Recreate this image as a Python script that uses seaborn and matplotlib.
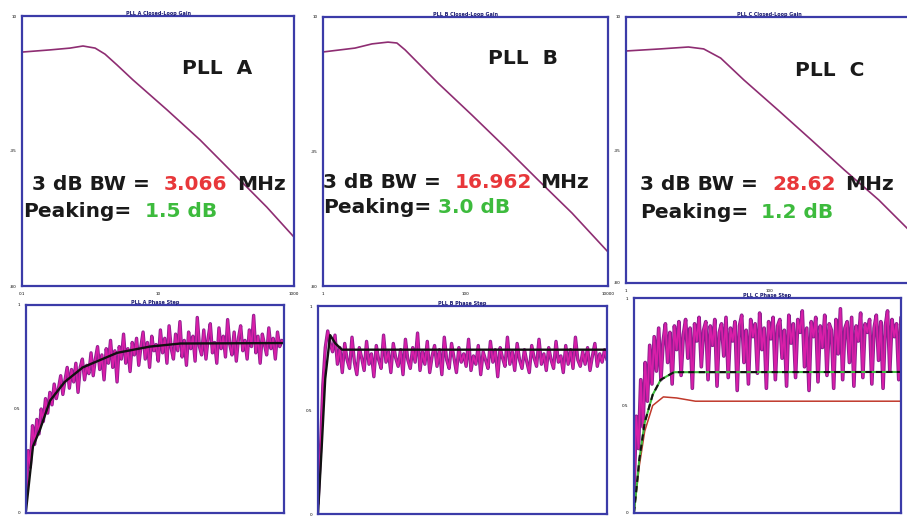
import numpy as np
import pandas as pd
import matplotlib
matplotlib.use("Agg")
import matplotlib.pyplot as plt
import seaborn as sns

# ---------------- data: closed-loop magnitude (MHz, dB) ----------------
bode_a_freq = [0.103, 0.258, 0.508, 0.789, 1.19, 1.66, 2.49, 4.28, 13.6, 41.5, 126, 398, 1000]
bode_a_db = [-2.0, -1.3, -0.7, 0.0, -0.7, -2.7, -6.3, -11.3, -21.3, -31.3, -42.3, -53.7, -63.7]

bode_b_freq = [1, 2.81, 4.87, 8.17, 10.9, 14.2, 41.1, 123, 358, 1042, 3126, 10000]
bode_b_db = [-1.7, -0.4, 1.0, 1.6, 1.3, -1.0, -12.1, -22.8, -33.5, -44.5, -55.6, -68.6]

bode_c_freq = [1, 3.01, 7.46, 12.2, 21.1, 44.5, 134, 391, 1138, 3428, 9077]
bode_c_db = [-1.5, -0.8, -0.15, -0.8, -3.9, -11.3, -21.5, -31.6, -41.8, -51.9, -62.1]

pll_names = ["PLL  A", "PLL  B", "PLL  C"]
bw_values = ["3.066", "16.962", "28.62"]
peaking_values = ["1.5 dB", "3.0 dB", "1.2 dB"]

# ---------------- data: step responses (normalised) ----------------
step_a_t = [0, 0.027, 0.054, 0.093, 0.15, 0.22, 0.353, 0.48, 0.6, 1.0]
step_a_ideal = [0.01, 0.32, 0.40, 0.54, 0.63, 0.70, 0.77, 0.80, 0.815, 0.817]
step_a_noisy = [
    0.05, 0.30, 0.22, 0.42, 0.33, 0.45, 0.38, 0.50, 0.44, 0.55,
    0.48, 0.58, 0.52, 0.62, 0.55, 0.60, 0.66, 0.57, 0.64, 0.70,
    0.60, 0.69, 0.63, 0.72, 0.58, 0.70, 0.74, 0.64, 0.71, 0.67,
    0.77, 0.66, 0.74, 0.80, 0.69, 0.76, 0.64, 0.79, 0.72, 0.83,
    0.70, 0.78, 0.63, 0.80, 0.74, 0.86, 0.72, 0.79, 0.68, 0.82,
    0.76, 0.84, 0.71, 0.80, 0.87, 0.74, 0.82, 0.70, 0.85, 0.78,
    0.81, 0.73, 0.88, 0.77, 0.84, 0.72, 0.90, 0.79, 0.74, 0.86,
    0.78, 0.92, 0.75, 0.83, 0.71, 0.87, 0.79, 0.85, 0.73, 0.94,
    0.80, 0.76, 0.88, 0.74, 0.84, 0.91, 0.77, 0.82, 0.72, 0.89,
    0.79, 0.85, 0.75, 0.93, 0.81, 0.76, 0.87, 0.73, 0.84, 0.90,
    0.78, 0.83, 0.74, 0.88, 0.80, 0.95, 0.77, 0.85, 0.72, 0.86,
    0.81, 0.76, 0.89, 0.79, 0.84, 0.74, 0.87, 0.80, 0.83, 0.82,
]

step_b_t = [0, 0.012, 0.025, 0.042, 0.06, 0.083, 1.0]
step_b_ideal = [0.0, 0.30, 0.65, 0.86, 0.82, 0.79, 0.79]
step_b_noisy = [
    0.05, 0.30, 0.62, 0.80, 0.88, 0.82, 0.78, 0.86, 0.72, 0.80,
    0.68, 0.82, 0.74, 0.70, 0.85, 0.73, 0.67, 0.80, 0.75, 0.69,
    0.83, 0.72, 0.77, 0.66, 0.81, 0.74, 0.70, 0.86, 0.73, 0.78,
    0.68, 0.82, 0.75, 0.71, 0.79, 0.67, 0.84, 0.74, 0.70, 0.80,
    0.73, 0.87, 0.69, 0.78, 0.72, 0.83, 0.68, 0.76, 0.81, 0.71,
    0.79, 0.67, 0.85, 0.74, 0.70, 0.82, 0.75, 0.68, 0.80, 0.73,
    0.77, 0.71, 0.84, 0.69, 0.76, 0.72, 0.81, 0.67, 0.78, 0.74,
    0.70, 0.83, 0.73, 0.79, 0.66, 0.80, 0.75, 0.71, 0.85, 0.72,
    0.78, 0.69, 0.82, 0.74, 0.70, 0.79, 0.73, 0.68, 0.81, 0.75,
    0.71, 0.84, 0.72, 0.77, 0.69, 0.80, 0.74, 0.70, 0.83, 0.73,
    0.76, 0.68, 0.81, 0.72, 0.79, 0.70, 0.85, 0.74, 0.71, 0.78,
    0.72, 0.80, 0.69, 0.76, 0.82, 0.71, 0.77, 0.73, 0.79, 0.74,
]

step_c_t = [0, 0.02, 0.04, 0.07, 0.10, 0.15, 1.0]
step_c_ideal = [0.0, 0.25, 0.42, 0.55, 0.62, 0.655, 0.656]
step_c_red_t = [0, 0.02, 0.04, 0.07, 0.11, 0.16, 0.23, 1.0]
step_c_red = [0.0, 0.22, 0.38, 0.50, 0.54, 0.535, 0.52, 0.52]
step_c_noisy = [
    0.10, 0.45, 0.30, 0.62, 0.40, 0.70, 0.52, 0.78, 0.60, 0.82,
    0.66, 0.86, 0.62, 0.80, 0.88, 0.70, 0.84, 0.60, 0.87, 0.76,
    0.89, 0.64, 0.83, 0.90, 0.72, 0.86, 0.58, 0.88, 0.80, 0.91,
    0.68, 0.85, 0.89, 0.62, 0.87, 0.78, 0.90, 0.59, 0.84, 0.88,
    0.73, 0.91, 0.63, 0.86, 0.80, 0.89, 0.57, 0.87, 0.92, 0.70,
    0.85, 0.60, 0.90, 0.82, 0.88, 0.65, 0.93, 0.76, 0.86, 0.58,
    0.89, 0.81, 0.91, 0.62, 0.87, 0.90, 0.72, 0.85, 0.59, 0.92,
    0.79, 0.88, 0.63, 0.90, 0.84, 0.94, 0.68, 0.86, 0.57, 0.89,
    0.82, 0.91, 0.61, 0.87, 0.77, 0.92, 0.64, 0.88, 0.85, 0.58,
    0.90, 0.74, 0.95, 0.62, 0.86, 0.89, 0.70, 0.91, 0.59, 0.87,
    0.80, 0.93, 0.63, 0.88, 0.84, 0.90, 0.60, 0.86, 0.92, 0.71,
    0.89, 0.58, 0.87, 0.94, 0.66, 0.90, 0.82, 0.88, 0.62, 0.91,
]

# ---------------- styling ----------------
sns.set_style("white")
plt.rcParams["font.family"] = ["DejaVu Sans"]

W, H = 907, 519
fig = plt.figure(figsize=(W / 100, H / 100), dpi=100)
fig.patch.set_facecolor("white")

FRAME = "#3b3ba8"
BODE_COL = "#8e2d72"
MAG_DARK = "#8a1f8e"
MAG = "#d81ea8"
RED = "#e8373a"
GREEN = "#3dbb3d"


def px_axes(l, r, t, b):
    return fig.add_axes([l / W, 1 - b / H, (r - l) / W, (b - t) / H])


def style(ax, xt, xl, yt, yl, title):
    for s in ax.spines.values():
        s.set_color(FRAME)
        s.set_linewidth(1.6)
    ax.set_xticks(xt)
    ax.set_xticklabels(xl)
    ax.set_yticks(yt)
    ax.set_yticklabels(yl)
    ax.tick_params(direction="out", length=3, width=1.6, color="black",
                   labelsize=3, pad=1, colors="black")
    ax.minorticks_off()
    ax.set_title(title, fontsize=3.5, color="#1a1a70", pad=1, fontweight="bold")
    ax.set_xlabel("")
    ax.set_ylabel("")
    ax.grid(False)


def line(ax, x, y, color, lw, ls="-"):
    df = pd.DataFrame({"x": x, "y": y})
    sns.lineplot(data=df, x="x", y="y", ax=ax, color=color, lw=lw, ls=ls,
                 estimator=None, sort=False, legend=False)


# ---- top row ----
top_boxes = [(22, 294, 16, 286), (323, 608, 17, 286), (626, 912, 17, 283)]
bode_sets = [(bode_a_freq, bode_a_db, (0.1, 1000)),
             (bode_b_freq, bode_b_db, (1, 10000)),
             (bode_c_freq, bode_c_db, (1, 10000))]
titles_top = ["PLL A Closed-Loop Gain", "PLL B Closed-Loop Gain", "PLL C Closed-Loop Gain"]
for i, (box, (f, db, xl)) in enumerate(zip(top_boxes, bode_sets)):
    ax = px_axes(*box)
    line(ax, f, db, BODE_COL, 1.2)
    ax.set_xscale("log")
    ax.set_xlim(*xl)
    ax.set_ylim(-80, 10)
    mid = np.sqrt(xl[0] * xl[1])
    right_lab = f"{xl[1]:g}" if i < 2 else ""
    style(ax, [xl[0], mid, xl[1]], [f"{xl[0]:g}", f"{mid:g}", right_lab],
          [-80, -35, 10], ["-80", "-35", "10"], titles_top[i])
    if i == 2:
        ax.spines["right"].set_visible(False)

# ---- big annotations (pixel positions) ----
FS = 14.5
ann = [
    # (pll_x, pll_y, bw_x, bw_red_x, mhz_x, bw_y, pk_x, pk_green_x, pk_y)
    (182, 68, 32, 164, 237, 185, 23, 145, 212),
    (488, 58, 323, 455, 540, 182, 323, 438, 207),
    (795, 70, 640, 772, 845, 185, 640, 761, 213),
]
for i, (px_, py_, bx, brx, mx, by, kx, kgx, ky) in enumerate(ann):
    fig.text(px_ / W, 1 - py_ / H, pll_names[i], fontsize=FS, fontweight="bold",
             color="#1a1a1a", ha="left", va="center")
    fig.text(bx / W, 1 - by / H, "3 dB BW =", fontsize=FS, fontweight="bold",
             color="#1a1a1a", ha="left", va="center")
    fig.text(brx / W, 1 - by / H, bw_values[i], fontsize=FS, fontweight="bold",
             color=RED, ha="left", va="center")
    fig.text(mx / W, 1 - by / H, "MHz", fontsize=FS, fontweight="bold",
             color="#1a1a1a", ha="left", va="center")
    fig.text(kx / W, 1 - ky / H, "Peaking=", fontsize=FS, fontweight="bold",
             color="#1a1a1a", ha="left", va="center")
    fig.text(kgx / W, 1 - ky / H, peaking_values[i], fontsize=FS, fontweight="bold",
             color=GREEN, ha="left", va="center")

# ---- bottom row ----
bot_boxes = [(26, 284, 305, 513), (318, 607, 306, 514), (634, 901, 298, 513)]
titles_bot = ["PLL A Phase Step", "PLL B Phase Step", "PLL C Phase Step"]

# A
ax = px_axes(*bot_boxes[0])
ta = np.linspace(0, 1, len(step_a_noisy))
line(ax, ta, step_a_noisy, MAG_DARK, 2.4)
line(ax, ta, step_a_noisy, MAG, 1.2)
line(ax, step_a_t, step_a_ideal, "#111111", 1.7)
# B
bx = px_axes(*bot_boxes[1])
tb = np.linspace(0, 1, len(step_b_noisy))
line(bx, tb, step_b_noisy, MAG_DARK, 2.4)
line(bx, tb, step_b_noisy, MAG, 1.2)
line(bx, step_b_t, step_b_ideal, "#111111", 1.7)
# C
cx = px_axes(*bot_boxes[2])
tc = np.linspace(0, 1, len(step_c_noisy))
line(cx, tc, step_c_noisy, MAG_DARK, 2.6)
line(cx, tc, step_c_noisy, MAG, 1.3)
line(cx, step_c_red_t, step_c_red, "#c0392b", 1.1)
line(cx, step_c_t, step_c_ideal, GREEN, 1.5)
line(cx, step_c_t, step_c_ideal, "#111111", 1.5, ls=(0, (3, 2)))

for k, a in enumerate([ax, bx, cx]):
    a.set_xlim(0, 1)
    a.set_ylim(0, 1)
    style(a, [0, 0.5, 1], ["", "", ""], [0, 0.5, 1], ["0", "0.5", "1"], titles_bot[k])

fig.savefig("out.png", dpi=100, facecolor="white")
